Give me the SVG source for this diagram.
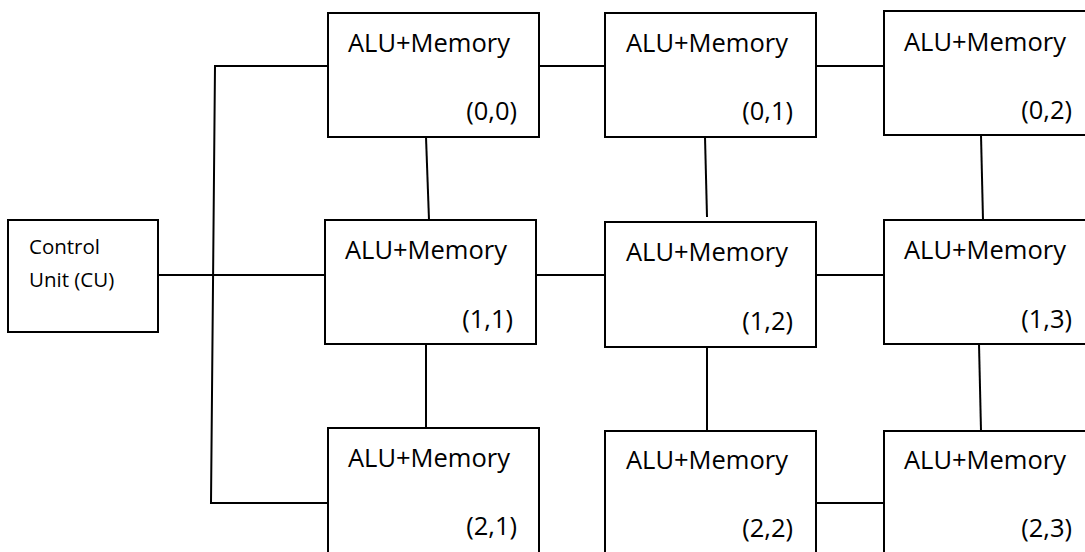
<svg xmlns="http://www.w3.org/2000/svg" width="1085" height="552" viewBox="0 0 1085 552">
  <style>
    .box { fill: #ffffff; stroke: #000000; stroke-width: 2; }
    .wire { fill: none; stroke: #000000; stroke-width: 2; stroke-linecap: butt; stroke-linejoin: miter; }
    .lbl { font-family: "Open Sans", "Liberation Sans", sans-serif; font-size: 25.5px; fill: #000000; }
    .idx { font-family: "Open Sans", "Liberation Sans", sans-serif; font-size: 25.5px; fill: #000000; text-anchor: end; }
    .cu { font-family: "Open Sans", "Liberation Sans", sans-serif; font-size: 20.5px; fill: #000000; }
  </style>
  <rect width="1085" height="552" fill="#ffffff"/>

  <!-- connectors: control bus and mesh links -->
  <g id="connectors">
    <polyline class="wire" points="330,66 215,66 211,503 328,503"/>
    <line class="wire" x1="158" y1="275" x2="325" y2="275"/>
    <line class="wire" x1="539" y1="66" x2="605" y2="66"/>
    <line class="wire" x1="816" y1="66" x2="884" y2="66"/>
    <line class="wire" x1="536" y1="275" x2="605" y2="275"/>
    <line class="wire" x1="816" y1="275" x2="884" y2="275"/>
    <line class="wire" x1="816" y1="503" x2="884" y2="503"/>
    <line class="wire" x1="426" y1="137" x2="429" y2="220"/>
    <line class="wire" x1="705" y1="137" x2="707" y2="217"/>
    <line class="wire" x1="981" y1="135" x2="983" y2="220"/>
    <line class="wire" x1="426" y1="344" x2="426" y2="428"/>
    <line class="wire" x1="707" y1="347" x2="707" y2="433"/>
    <line class="wire" x1="979" y1="344" x2="981" y2="431"/>
  </g>

  <g id="cu">
    <rect class="box" x="8" y="220" width="150" height="112"/>
    <text class="cu" x="29" y="254">Control</text>
    <text class="cu" x="29" y="287">Unit (CU)</text>
  </g>

  <g id="pe-0-0">
    <rect class="box" x="328" y="13" width="211" height="124"/>
    <text class="lbl" x="348" y="52">ALU+Memory</text>
    <text class="idx" x="517" y="120">(0,0)</text>
  </g>
  <g id="pe-0-1">
    <rect class="box" x="605" y="13" width="211" height="124"/>
    <text class="lbl" x="626" y="52">ALU+Memory</text>
    <text class="idx" x="793" y="120">(0,1)</text>
  </g>
  <g id="pe-0-2">
    <rect class="box" x="884" y="11" width="220" height="124"/>
    <text class="lbl" x="904" y="51">ALU+Memory</text>
    <text class="idx" x="1072" y="119">(0,2)</text>
  </g>

  <g id="pe-1-1">
    <rect class="box" x="325" y="220" width="211" height="124"/>
    <text class="lbl" x="345" y="259">ALU+Memory</text>
    <text class="idx" x="513" y="328">(1,1)</text>
  </g>
  <g id="pe-1-2">
    <rect class="box" x="605" y="222" width="211" height="125"/>
    <text class="lbl" x="626" y="261">ALU+Memory</text>
    <text class="idx" x="793" y="330">(1,2)</text>
  </g>
  <g id="pe-1-3">
    <rect class="box" x="884" y="220" width="220" height="124"/>
    <text class="lbl" x="904" y="259">ALU+Memory</text>
    <text class="idx" x="1072" y="328">(1,3)</text>
  </g>

  <g id="pe-2-1">
    <rect class="box" x="328" y="428" width="211" height="140"/>
    <text class="lbl" x="348" y="467">ALU+Memory</text>
    <text class="idx" x="517" y="535">(2,1)</text>
  </g>
  <g id="pe-2-2">
    <rect class="box" x="605" y="431" width="211" height="140"/>
    <text class="lbl" x="626" y="469">ALU+Memory</text>
    <text class="idx" x="793" y="537">(2,2)</text>
  </g>
  <g id="pe-2-3">
    <rect class="box" x="884" y="431" width="220" height="140"/>
    <text class="lbl" x="904" y="469">ALU+Memory</text>
    <text class="idx" x="1072" y="537">(2,3)</text>
  </g>
</svg>
